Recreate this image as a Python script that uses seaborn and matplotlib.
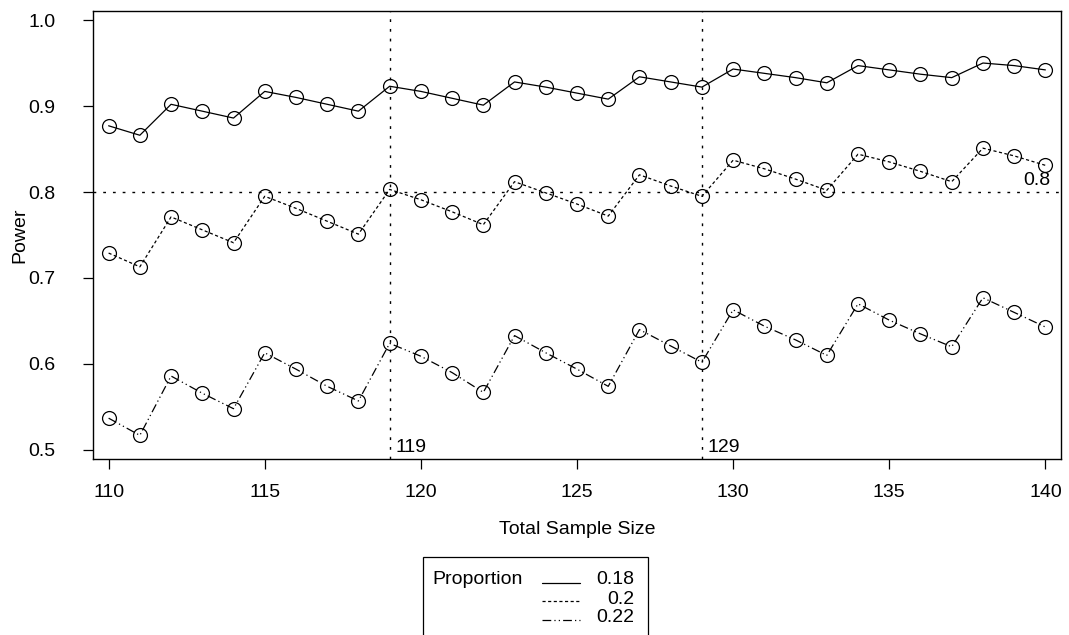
import matplotlib
matplotlib.use("Agg")
import matplotlib.pyplot as plt
from matplotlib.lines import Line2D
from matplotlib.patches import Rectangle
import pandas as pd
import seaborn as sns

# Power of the test by total sample size, one series per proportion
sample_size = list(range(110, 141))
power_018 = [0.877, 0.866, 0.902, 0.894, 0.886, 0.917, 0.910, 0.902, 0.894, 0.923,
             0.917, 0.909, 0.901, 0.928, 0.922, 0.915, 0.908, 0.934, 0.928, 0.922,
             0.943, 0.938, 0.933, 0.927, 0.947, 0.942, 0.937, 0.933, 0.950, 0.947,
             0.942]
power_020 = [0.729, 0.713, 0.771, 0.756, 0.741, 0.795, 0.781, 0.766, 0.751, 0.803,
             0.791, 0.777, 0.762, 0.812, 0.799, 0.786, 0.772, 0.820, 0.807, 0.795,
             0.837, 0.827, 0.815, 0.802, 0.844, 0.835, 0.824, 0.812, 0.851, 0.842,
             0.831]
power_022 = [0.537, 0.517, 0.586, 0.566, 0.548, 0.613, 0.594, 0.574, 0.557, 0.624,
             0.609, 0.590, 0.567, 0.633, 0.613, 0.594, 0.574, 0.640, 0.621, 0.602,
             0.663, 0.644, 0.628, 0.610, 0.670, 0.651, 0.635, 0.620, 0.677, 0.660,
             0.643]
proportions = ["0.18", "0.2", "0.22"]
ref_sizes = [119, 129]
target_power = 0.8
x_ticks = [110, 115, 120, 125, 130, 135, 140]
y_ticks = [0.5, 0.6, 0.7, 0.8, 0.9, 1.0]
y_tick_labels = ["0.5", "0.6", "0.7", "0.8", "0.9", "1.0"]

frames = []
for prop, vals in zip(proportions, [power_018, power_020, power_022]):
    frames.append(pd.DataFrame({"Total Sample Size": sample_size,
                                "Power": vals,
                                "Proportion": prop}))
df = pd.concat(frames, ignore_index=True)

sns.set_theme(style="white")
plt.rcParams["font.family"] = ["Liberation Sans", "DejaVu Sans"]
plt.rcParams["text.color"] = "black"
FS = 14

line_styles = {
    "0.18": "-",
    "0.2": (0, (2.5, 2.0)),
    "0.22": (0, (7, 2.5, 1, 2.5, 1, 2.5)),
}

fig = plt.figure(figsize=(10.69, 6.35), dpi=100)
ax = fig.add_axes([93 / 1069, 1 - 459 / 635, 968 / 1069, 448 / 635])

for prop in proportions:
    sns.lineplot(data=df[df["Proportion"] == prop], x="Total Sample Size", y="Power",
                 ax=ax, color="black", linewidth=0.9, linestyle=line_styles[prop],
                 marker="o", markersize=10, markerfacecolor="none",
                 markeredgecolor="black", markeredgewidth=0.9,
                 errorbar=None, legend=False)

# Reference lines
ref_style = dict(color="black", linewidth=1.0, linestyle=(0, (2, 5)))
for n in ref_sizes:
    ax.axvline(n, **ref_style)
    ax.annotate(str(n), xy=(n, 0), xycoords=("data", "axes fraction"),
                xytext=(6, 3), textcoords="offset pixels",
                ha="left", va="bottom", fontsize=FS, color="black")
ax.axhline(target_power, **ref_style)
ax.annotate(f"{target_power:g}", xy=(1, target_power), xycoords=("axes fraction", "data"),
            xytext=(-11, 3), textcoords="offset pixels",
            ha="right", va="bottom", fontsize=FS, color="black")

ax.set_xlim(109.5, 140.5)
ax.set_ylim(0.4895, 1.0105)
ax.set_xticks(x_ticks)
ax.set_xticklabels([str(v) for v in x_ticks], fontsize=FS)
ax.set_yticks(y_ticks)
ax.set_yticklabels(y_tick_labels, fontsize=FS)
ax.tick_params(axis="x", direction="out", length=7, width=0.9, pad=11,
               bottom=True, colors="black")
ax.tick_params(axis="y", direction="out", length=7, width=0.9, pad=20,
               left=True, colors="black")
for sp in ax.spines.values():
    sp.set_color("black")
    sp.set_linewidth(1.0)

ax.set_xlabel("Total Sample Size", fontsize=FS, color="black")
ax.set_ylabel("Power", fontsize=FS, color="black")
ax.xaxis.set_label_coords(0.5, (459 - 521) / 448)
ax.yaxis.set_label_coords((28 - 93) / 968, 0.5)

# Legend box below the plot
W, H = 1069, 635
def fx(px):
    return px / W
def fy(py):
    return 1 - py / H

fig.patches.append(Rectangle((fx(423), fy(700)), fx(648) - fx(423), fy(557) - fy(700),
                             transform=fig.transFigure, fill=False,
                             edgecolor="black", linewidth=0.9))
fig.text(fx(432), fy(580), "Proportion", ha="left", va="center", fontsize=FS)
row_text = [580, 599, 617]
row_line = [583, 601, 620]
for prop, ty, ly in zip(proportions, row_text, row_line):
    fig.lines.append(Line2D([fx(542), fx(580)], [fy(ly), fy(ly)],
                            transform=fig.transFigure, color="black",
                            linewidth=0.9, linestyle=line_styles[prop]))
    fig.text(fx(634), fy(ty), prop, ha="right", va="center", fontsize=FS)

fig.savefig("out.png", dpi=100)
